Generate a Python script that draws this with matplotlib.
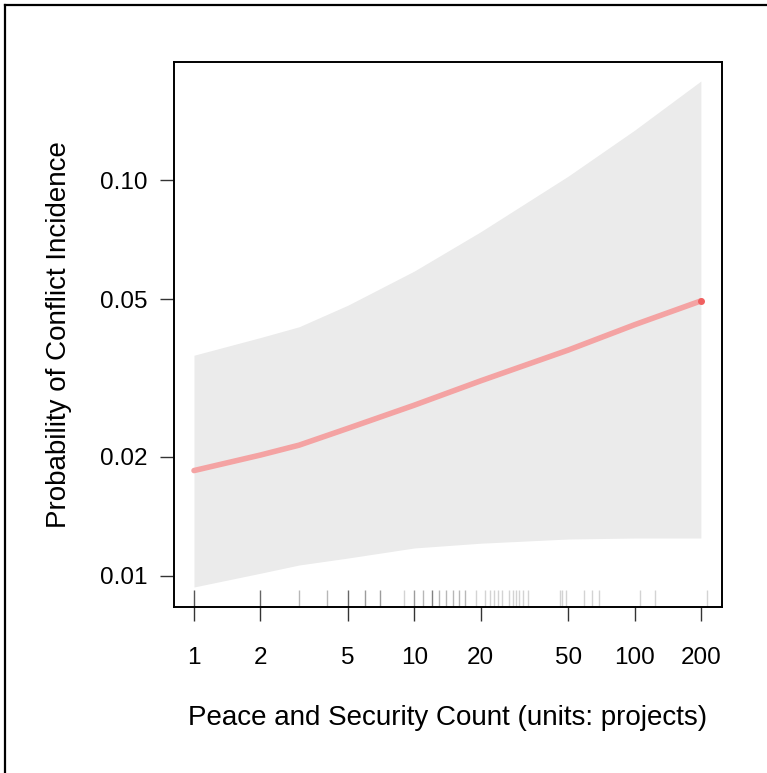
import matplotlib
matplotlib.use("Agg")
import matplotlib.pyplot as plt
from matplotlib.lines import Line2D
import matplotlib.transforms as mtransforms

plt.rcParams['font.family'] = ['Liberation Sans', 'DejaVu Sans']

# Data
count = [1, 2, 3, 5, 10, 20, 50, 100, 200]
prob = [0.01846, 0.0202, 0.0214, 0.0236, 0.0270, 0.0311, 0.0372, 0.0431, 0.0495]
upper = [0.0361, 0.0400, 0.0426, 0.0483, 0.0589, 0.0740, 0.1023, 0.1336, 0.1778]
lower = [0.00938, 0.01016, 0.01066, 0.0111, 0.01177, 0.0121, 0.0124, 0.01247, 0.01247]

rug_values = [1, 2, 3, 4, 5, 6, 7, 9, 10, 11, 12, 13, 14, 15, 16, 17, 19, 21, 22, 23,
              24, 25, 27, 28, 29, 30, 31, 33, 46, 47, 49, 59, 64, 69, 106, 124, 214]
rug_counts = [6, 5, 2, 2, 5, 3, 3, 1, 3, 2, 4, 2, 2, 2, 2, 2, 1, 1, 1, 1,
              1, 1, 1, 1, 1, 1, 1, 1, 1, 1, 1, 1, 1, 1, 1, 1, 1]

x_ticks = [1, 2, 5, 10, 20, 50, 100, 200]
x_ticklabels = ['1', '2', '5', '10', '20', '50', '100', '200']
y_ticks = [0.01, 0.02, 0.05, 0.10]
y_ticklabels = ['0.01', '0.02', '0.05', '0.10']

W, H = 767, 773
fig = plt.figure(figsize=(W / 100, H / 100), dpi=100)
ax = fig.add_axes([174 / W, 1 - 607 / H, (722 - 174) / W, (607 - 62) / H])

ax.set_xscale('log')
ax.set_yscale('log')
ax.set_xlim(10 ** -0.0908, 10 ** 2.397)
ax.set_ylim(10 ** -2.0783, 10 ** -0.702)

ax.fill_between(count, lower, upper, color='#EBEBEB', linewidth=0, zorder=1)
ax.plot(count, prob, color='#F4A3A3', linewidth=4.0, solid_capstyle='round',
        solid_joinstyle='round', zorder=3)
ax.plot([count[-1]], [prob[-1]], 'o', color='#F06060', markersize=4, zorder=4)

trans = mtransforms.blended_transform_factory(ax.transData, ax.transAxes)
for v, c in zip(rug_values, rug_counts):
    a = min(1.0, 0.16 * c + 0.1)
    ax.vlines(v, 0.0, 0.031, transform=trans, color='#555555', alpha=a, linewidth=1.0, zorder=2)

ax.minorticks_off()
ax.set_xticks(x_ticks)
ax.set_xticklabels(x_ticklabels)
ax.set_yticks(y_ticks)
ax.set_yticklabels(y_ticklabels)
ax.tick_params(axis='both', direction='out', length=10, width=1.0, color='#333333',
               labelsize=17.5)
ax.tick_params(axis='x', pad=19)
ax.tick_params(axis='y', pad=9)
for s in ax.spines.values():
    s.set_linewidth(1.4)
    s.set_color('black')

ax.set_xlabel('Peace and Security Count (units: projects)', fontsize=20)
ax.set_ylabel('Probability of Conflict Incidence', fontsize=20)
ax.xaxis.set_label_coords(0.5, (607 - 705) / 545)
ax.yaxis.set_label_coords((72 - 174) / 548, 0.5)

fig.add_artist(Line2D([5 / W, 5 / W], [0, 1 - 5 / H], transform=fig.transFigure,
                      color='black', linewidth=1.6))
fig.add_artist(Line2D([5 / W, 1], [1 - 5 / H, 1 - 5 / H], transform=fig.transFigure,
                      color='black', linewidth=1.6))

fig.savefig('out.png', dpi=100)
